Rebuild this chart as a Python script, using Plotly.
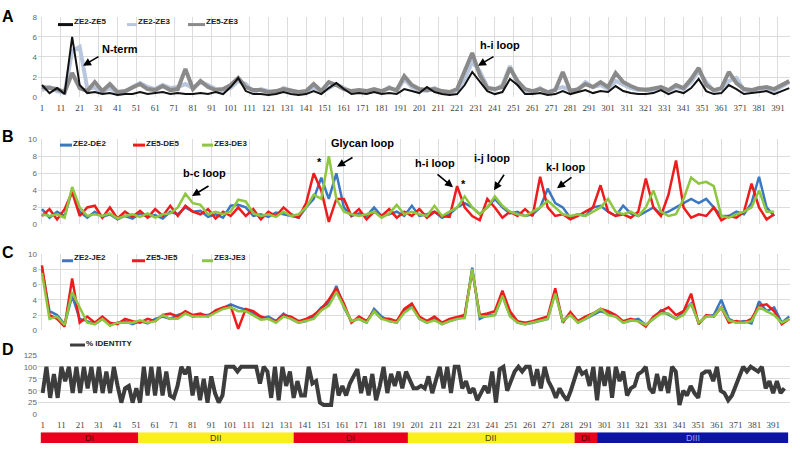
import plotly.graph_objects as go

W, H = 800, 449

# residue positions sampled along the sequence
res_ac = list(range(1, 398, 4))
res_b = list(range(1, 390, 4))
res_d = list(range(1, 398, 2))
tick_res = list(range(1, 392, 10))

# --- panel A: ZE pairwise distances
ze2_ze5 = [1.2, 0.4, 0.9, 0.3, 6.0, 1.2, 0.4, 0.5, 0.3, 0.4,
           0.2, 0.3, 0.3, 0.5, 0.3, 0.4, 0.5, 0.3, 0.4, 0.3,
           0.3, 0.4, 0.3, 0.5, 0.3, 1.0, 1.9, 0.6, 0.3, 0.3,
           0.2, 0.3, 0.5, 0.3, 0.2, 0.3, 0.6, 0.3, 0.9, 1.4,
           0.8, 0.3, 0.4, 0.3, 0.5, 0.3, 0.4, 0.3, 0.8, 0.6,
           0.4, 1.0, 0.5, 0.3, 0.2, 0.3, 1.2, 2.5, 1.5, 0.6,
           0.3, 0.5, 1.8, 1.2, 0.3, 0.3, 0.4, 0.2, 0.3, 0.6,
           0.3, 0.5, 0.7, 0.4, 0.6, 0.5, 1.1, 0.6, 0.4, 0.3,
           0.3, 0.4, 0.7, 0.3, 0.6, 0.4, 0.9, 1.8, 0.6, 0.3,
           0.4, 1.2, 0.8, 0.3, 0.4, 0.5, 0.6, 0.3, 0.6, 0.9]
ze2_ze3 = [0.7, 1.0, 0.6, 0.4, 4.6, 5.0, 0.9, 0.9, 0.5, 0.9,
           0.4, 0.5, 1.0, 1.4, 1.0, 0.8, 1.2, 0.9, 1.0, 1.3,
           0.9, 1.5, 1.2, 0.8, 0.7, 0.9, 1.6, 1.3, 0.5, 0.8,
           0.6, 0.4, 0.9, 0.7, 0.4, 0.5, 1.0, 0.5, 0.9, 1.3,
           0.9, 0.5, 0.6, 0.5, 0.7, 0.5, 1.0, 0.6, 1.8, 1.0,
           0.7, 0.6, 0.9, 0.5, 0.4, 0.7, 1.8, 3.5, 2.6, 1.0,
           0.7, 1.2, 3.1, 1.3, 0.6, 0.5, 0.9, 0.4, 0.8, 1.0,
           0.7, 0.7, 1.5, 1.0, 1.2, 0.8, 1.6, 1.2, 0.9, 0.7,
           0.8, 0.6, 1.0, 0.6, 1.0, 0.8, 1.5, 2.6, 1.5, 0.6,
           0.8, 1.6, 1.9, 0.7, 0.6, 0.8, 0.9, 0.6, 1.0, 1.5]
ze5_ze3 = [1.0, 0.9, 0.8, 0.5, 2.4, 0.9, 0.6, 1.5, 0.6, 1.3,
           0.5, 0.6, 0.9, 1.3, 0.8, 0.7, 1.1, 0.7, 0.8, 2.8,
           0.8, 1.6, 1.0, 0.7, 0.8, 1.2, 1.9, 1.0, 0.7, 0.7,
           0.5, 0.6, 0.8, 0.6, 0.5, 0.6, 1.3, 0.6, 1.5, 1.2,
           0.8, 0.6, 0.7, 0.6, 0.8, 0.6, 0.9, 0.7, 2.1, 1.2,
           0.8, 0.7, 0.8, 0.6, 0.5, 0.8, 2.5, 4.4, 2.2, 0.9,
           0.8, 1.0, 2.9, 1.6, 0.8, 0.6, 0.8, 0.5, 0.7, 2.5,
           0.6, 0.8, 1.3, 1.0, 1.5, 1.0, 2.4, 1.5, 1.1, 0.8,
           0.7, 0.8, 1.0, 0.7, 1.2, 0.9, 1.8, 2.9, 1.2, 0.7,
           0.9, 2.5, 1.4, 0.8, 0.7, 0.9, 1.0, 0.8, 1.2, 1.6]

# --- panel B: ZE vs DE
ze2_de2 = [1.8, 0.8, 1.5, 1.0, 4.0, 1.5, 0.8, 1.5, 0.9, 1.2,
           0.6, 1.0, 0.7, 1.3, 0.9, 1.1, 0.7, 1.5, 1.2, 2.0,
           1.5, 1.6, 0.9, 1.2, 0.8, 2.2, 2.3, 2.0, 1.0, 1.2,
           0.9, 1.4, 1.2, 1.0, 0.8, 2.0, 3.0, 5.5, 3.0, 6.0,
           2.0, 1.0, 1.3, 1.0, 2.0, 1.0, 1.2, 1.5, 1.0, 2.2,
           1.0, 1.2, 1.5, 0.8, 1.2, 2.0, 2.5, 2.0, 1.2, 2.0,
           3.0, 2.0, 1.3, 1.5, 1.0, 1.2, 2.0, 4.2, 2.5, 2.0,
           0.8, 1.2, 1.0, 2.0, 2.2, 1.5, 1.0, 2.2, 1.3, 1.0,
           1.5, 2.0, 1.2, 1.5, 2.0, 2.5, 3.0, 2.5, 3.0, 2.0,
           1.0, 1.0, 1.5, 1.2, 2.5, 5.6, 2.0, 1.0]
ze5_de5 = [1.0, 1.8, 0.6, 1.8, 3.8, 1.0, 2.0, 2.2, 0.8, 2.0,
           0.7, 1.5, 0.9, 1.6, 0.8, 1.8, 1.0, 2.2, 1.0, 2.2,
           1.5, 1.2, 1.8, 0.7, 1.5, 1.0, 2.0, 1.0, 1.8, 0.6,
           1.5, 1.0, 2.0, 1.2, 0.8, 2.5, 6.0, 4.0, 0.3, 3.0,
           3.0, 1.0, 1.8, 0.6, 1.5, 1.0, 1.8, 0.8, 1.5, 1.0,
           1.8, 0.8, 1.5, 1.0, 0.9, 4.5, 2.0, 1.0, 0.5, 3.0,
           2.0, 0.8, 1.5, 1.0, 1.8, 1.0, 5.6, 2.0, 1.0, 1.2,
           0.6, 1.0, 1.5, 2.0, 4.6, 1.5, 1.0, 1.2, 0.8, 1.5,
           5.4, 2.0, 1.0, 3.5, 7.5, 2.0, 0.8, 1.2, 1.0, 2.0,
           0.5, 1.0, 0.8, 1.5, 4.8, 2.0, 0.6, 1.2]
ze3_de3 = [1.2, 1.0, 1.2, 0.8, 4.4, 2.0, 1.0, 1.2, 1.0, 1.3,
           0.7, 1.0, 1.2, 0.9, 1.3, 0.8, 1.2, 1.3, 2.0, 3.6,
           2.5, 2.3, 1.2, 1.5, 1.2, 1.5, 2.9, 2.7, 1.3, 1.0,
           1.2, 0.9, 1.5, 1.0, 1.2, 2.0, 3.5, 3.0, 8.0, 3.0,
           1.5, 1.2, 1.0, 1.2, 1.5, 0.8, 1.3, 2.3, 1.2, 1.5,
           1.2, 1.0, 2.2, 1.0, 1.5, 2.0, 3.3, 2.0, 1.2, 2.0,
           3.3, 2.2, 1.5, 1.2, 1.0, 1.5, 2.0, 2.8, 2.0, 1.2,
           1.0, 1.2, 1.0, 1.5, 2.0, 3.0, 1.5, 1.2, 1.5, 1.0,
           2.0, 4.0, 1.5, 1.0, 1.2, 3.0, 5.5, 4.8, 5.0, 4.5,
           1.0, 0.8, 1.2, 1.5, 2.0, 4.0, 1.5, 1.5]

# --- panel C: ZE vs JE
ze2_je2 = [8.0, 2.5, 2.0, 0.8, 4.5, 1.5, 1.2, 0.8, 1.5, 0.7,
           1.0, 1.2, 0.8, 1.2, 0.9, 1.5, 1.8, 1.5, 2.0, 2.3,
           1.8, 2.0, 2.0, 2.5, 3.0, 3.4, 3.0, 2.7, 2.2, 1.5,
           1.8, 1.2, 2.2, 1.5, 1.0, 1.2, 1.8, 3.0, 3.5, 5.8,
           3.0, 1.2, 1.5, 1.0, 2.8, 1.8, 1.2, 1.0, 2.5, 3.2,
           1.5, 1.0, 1.5, 0.8, 1.2, 1.5, 1.8, 8.2, 1.5, 2.0,
           2.0, 4.5, 2.0, 1.0, 0.8, 1.0, 1.2, 1.5, 5.0, 1.2,
           2.2, 1.0, 1.5, 2.0, 2.5, 2.2, 1.8, 1.0, 1.3, 1.5,
           0.7, 1.5, 2.6, 2.0, 1.5, 2.5, 3.5, 1.0, 1.8, 2.0,
           4.0, 1.5, 1.0, 1.2, 0.9, 3.8, 2.5, 3.0, 1.0, 1.8]
ze5_je5 = [8.5, 2.0, 1.5, 0.5, 6.8, 1.0, 1.8, 1.0, 1.8, 1.0,
           0.8, 1.5, 1.2, 1.0, 1.5, 1.2, 2.0, 2.2, 1.8, 2.5,
           2.0, 2.2, 1.8, 2.6, 3.0, 3.2, 0.2, 2.8, 2.5, 1.8,
           1.5, 1.2, 2.0, 1.8, 1.2, 1.5, 2.0, 2.8, 4.0, 5.5,
           3.5, 1.0, 1.8, 1.2, 2.5, 1.5, 1.5, 1.2, 2.8, 3.5,
           1.8, 1.2, 1.8, 1.0, 1.5, 1.8, 2.0, 7.8, 2.0, 2.2,
           2.5, 5.2, 2.5, 1.2, 1.0, 1.2, 1.5, 1.8, 5.5, 1.0,
           2.4, 1.2, 1.8, 2.2, 2.8, 2.5, 2.0, 1.2, 1.5, 1.2,
           0.5, 1.8, 2.5, 3.0, 2.0, 2.5, 4.8, 0.8, 2.0, 1.8,
           3.0, 1.0, 1.2, 1.0, 1.5, 3.2, 3.4, 2.5, 0.8, 1.5]
ze3_je3 = [7.5, 1.5, 1.8, 0.7, 5.0, 3.0, 1.0, 0.8, 1.5, 0.6,
           1.0, 1.0, 1.0, 1.3, 1.0, 1.2, 2.0, 1.5, 1.5, 2.2,
           1.8, 1.8, 1.8, 2.3, 2.8, 3.0, 2.5, 2.5, 2.0, 1.4,
           1.5, 1.0, 1.8, 1.5, 1.0, 1.2, 1.5, 2.6, 3.2, 5.0,
           3.0, 1.2, 1.5, 1.0, 2.5, 1.5, 1.2, 1.0, 2.3, 3.0,
           1.5, 1.0, 1.3, 0.8, 1.2, 1.5, 1.6, 8.0, 1.8, 1.8,
           2.0, 4.5, 1.8, 1.0, 0.8, 1.0, 1.2, 1.5, 4.8, 1.2,
           2.0, 1.0, 1.5, 2.2, 2.8, 2.0, 1.8, 1.0, 1.3, 1.2,
           0.7, 1.5, 2.2, 2.2, 1.5, 2.0, 3.5, 1.0, 1.8, 1.8,
           3.0, 1.3, 1.0, 1.0, 1.2, 3.0, 2.5, 2.0, 1.0, 1.5]

# --- panel D: % identity
identity = [45, 100, 35, 85, 35, 100, 70, 100, 45, 100,
            45, 100, 55, 100, 45, 100, 45, 90, 45, 100,
            60, 25, 55, 60, 25, 55, 25, 100, 40, 100,
            40, 100, 40, 90, 40, 35, 60, 100, 85, 100,
            40, 80, 30, 75, 25, 80, 45, 25, 40, 100,
            100, 100, 90, 100, 100, 100, 100, 100, 65, 100,
            90, 35, 100, 30, 100, 60, 90, 35, 70, 40,
            40, 100, 65, 70, 25, 20, 20, 20, 85, 40,
            60, 40, 65, 80, 95, 45, 80, 40, 85, 30,
            60, 100, 45, 85, 60, 90, 55, 90, 70, 55,
            55, 60, 55, 80, 45, 70, 100, 55, 100, 45,
            100, 100, 55, 70, 45, 55, 30, 45, 60, 45,
            90, 25, 95, 100, 50, 70, 90, 100, 90, 100,
            100, 60, 95, 55, 100, 70, 55, 35, 55, 40,
            30, 50, 75, 100, 85, 90, 60, 100, 30, 100,
            60, 100, 35, 100, 70, 90, 40, 55, 60, 85,
            90, 100, 55, 45, 85, 50, 80, 45, 100, 90,
            20, 50, 40, 60, 45, 35, 85, 90, 90, 70,
            100, 50, 45, 30, 40, 60, 80, 100, 90, 100,
            95, 90, 100, 55, 70, 45, 70, 45, 55]

# --- structural domains along the sequence
dom_names = ["DI", "DII", "DI", "DII", "DI", "DIII"]
dom_start = [0, 52, 135, 196, 285, 297]
dom_end = [52, 135, 196, 285, 297, 399]
dom_colors = ["#e8001c", "#fbee1f", "#e8001c", "#fbee1f", "#e8001c", "#0d13a3"]
dom_text = ["#5a0008", "#4a4200", "#5a0008", "#4a4200", "#5a0008", "#8fa0ff"]


def px(x):
    return x / W


def py(y):
    return 1 - y / H


fig = go.Figure()

panels = [
    ("x", "y", res_ac, [(ze2_ze3, "ZE2-ZE3", "#b9c7de", 4),
                        (ze5_ze3, "ZE5-ZE3", "#8a8a8a", 4),
                        (ze2_ze5, "ZE2-ZE5", "#111111", 2)]),
    ("x2", "y2", res_b, [(ze2_de2, "ZE2-DE2", "#3b78c2", 2.5),
                         (ze5_de5, "ZE5-DE5", "#ee1c1c", 2.5),
                         (ze3_de3, "ZE3-DE3", "#8dc63f", 2.5)]),
    ("x3", "y3", res_ac, [(ze2_je2, "ZE2-JE2", "#3b78c2", 2.5),
                          (ze5_je5, "ZE5-JE5", "#ee1c1c", 2.5),
                          (ze3_je3, "ZE3-JE3", "#8dc63f", 2.5)]),
    ("x4", "y4", res_d, [(identity, "% IDENTITY", "#3d3d3d", 4)]),
]
for xa, ya, xs, series in panels:
    for vals, name, col, w in series:
        fig.add_trace(go.Scatter(x=xs, y=vals, name=name, mode="lines",
                                 line=dict(color=col, width=w),
                                 xaxis=xa, yaxis=ya, showlegend=False))

# domain bar
fig.add_trace(go.Bar(y=["dom"] * len(dom_names),
                     x=[e - s for s, e in zip(dom_start, dom_end)],
                     base=dom_start, orientation="h", width=1,
                     marker=dict(color=dom_colors, line=dict(width=0)),
                     xaxis="x5", yaxis="y5", showlegend=False, hoverinfo="skip"))

xdom = [px(38), px(790)]
xr_abc = [-1.1, 397.4]
xr_d = [-1.5, 400]
ytick_font = dict(family="Liberation Sans", size=8, color="#666666")
xtick_font = dict(family="Liberation Serif", size=9, color="#444444")
grid = "#dcdcdc"


def xaxis(rng, labels, vgrid, anchor, standoff=4):
    return dict(domain=xdom, range=rng, tickvals=tick_res, showticklabels=labels,
                showgrid=vgrid, gridcolor=grid, zeroline=False, showline=False,
                ticks="", tickfont=xtick_font, anchor=anchor, ticklabelstandoff=standoff)


def yaxis(rng, dtick, top, bottom, anchor):
    return dict(domain=[py(bottom), py(top)], range=rng, dtick=dtick,
                showgrid=True, gridcolor=grid, zeroline=False, showline=False,
                ticks="", tickfont=ytick_font, anchor=anchor)


fig.update_layout(
    width=W, height=H, margin=dict(l=0, r=0, t=0, b=0),
    plot_bgcolor="white", paper_bgcolor="white", showlegend=False,
    xaxis=xaxis(xr_abc, True, True, "y"),
    xaxis2=xaxis(xr_abc, False, True, "y2"),
    xaxis3=xaxis(xr_abc, False, True, "y3"),
    xaxis4=xaxis(xr_d, True, False, "y4", standoff=3),
    xaxis5=dict(domain=xdom, range=xr_d, visible=False, anchor="y5"),
    yaxis=yaxis([0, 8], 2, 13, 95, "x"),
    yaxis2=yaxis([0, 10], 2, 138, 225, "x2"),
    yaxis3=yaxis([0, 10], 2, 255, 333, "x3"),
    yaxis4=yaxis([0, 125], 25, 358, 419, "x4"),
    yaxis5=dict(domain=[py(448), py(437)], range=[-0.5, 0.5], visible=False, anchor="x5"),
)

ann = []
shapes = []


def text_ann(x, y, text, size, color="black", xanchor="center", xref="paper"):
    return dict(x=x, y=y, xref=xref, yref="paper", text=text, showarrow=False,
                xanchor=xanchor, yanchor="middle", borderpad=0,
                font=dict(family="Liberation Sans", size=size, color=color))


# panel letters
for letter, yy in [("A", 13), ("B", 135), ("C", 254), ("D", 353)]:
    ann.append(text_ann(px(8), py(yy), f"<b>{letter}</b>", 16))

# legends (swatch + label)
legend_items = [
    (58, 73, 21, 18, "#111111", "ZE2-ZE5"), (127, 137, 21, 18, "#b9c7de", "ZE2-ZE3"),
    (188, 205, 21, 18, "#8a8a8a", "ZE5-ZE3"),
    (60, 72, 144, 142, "#3b78c2", "ZE2-DE2"), (133, 145, 144, 142, "#ee1c1c", "ZE5-DE5"),
    (202, 213, 144, 142, "#8dc63f", "ZE3-DE3"),
    (62, 73, 262, 259, "#3b78c2", "ZE2-JE2"), (132, 145, 262, 259, "#ee1c1c", "ZE5-JE5"),
    (202, 213, 262, 259, "#8dc63f", "ZE3-JE3"),
    (70, 85, 348, 346, "#3d3d3d", "% IDENTITY"),
]
for x0, x1, ys, yt, col, label in legend_items:
    shapes.append(dict(type="line", xref="paper", yref="paper", x0=px(x0), x1=px(x1),
                       y0=py(ys), y1=py(ys), line=dict(color=col, width=3)))
    ann.append(text_ann(px(x1), py(yt), f"<b>{label}</b>", 8, "#222222", xanchor="left"))

# feature labels
labels = [("N-term", 120, 46), ("h-i loop", 500, 42), ("b-c loop", 205, 172),
          ("Glycan loop", 362, 142), ("*", 319, 161), ("h-i loop", 435, 162),
          ("*", 463, 184), ("i-j loop", 492, 157), ("k-l loop", 565, 166)]
for t, x, y in labels:
    ann.append(text_ann(px(x), py(y), f"<b>{t}</b>", 11))

# arrows: head position and tail offset in pixels
arrows = [(83, 63, 17, -10), (478, 63, 17, -10), (192, 196, 18, -11), (337, 166, 17, -10),
          (453, 187, -17, -14), (494, 190, 11, -17), (557, 188, 16, -12)]
for hx, hy, ax, ay in arrows:
    ann.append(dict(x=px(hx), y=py(hy), xref="paper", yref="paper", text="", showarrow=True,
                    ax=ax, ay=ay, arrowhead=2, arrowsize=1, arrowwidth=1.6, arrowcolor="black"))

# domain names on the bar
for name, s, e, tc in zip(dom_names, dom_start, dom_end, dom_text):
    ann.append(text_ann((s + e) / 2, py(442.5), name, 9, tc, xref="x5"))

fig.update_layout(annotations=ann, shapes=shapes)

# the page body has a default margin; drop it so the figure sits at the window corner
fig.write_html("out.html", config={"displayModeBar": False},
               post_script="document.body.style.margin='0';")
